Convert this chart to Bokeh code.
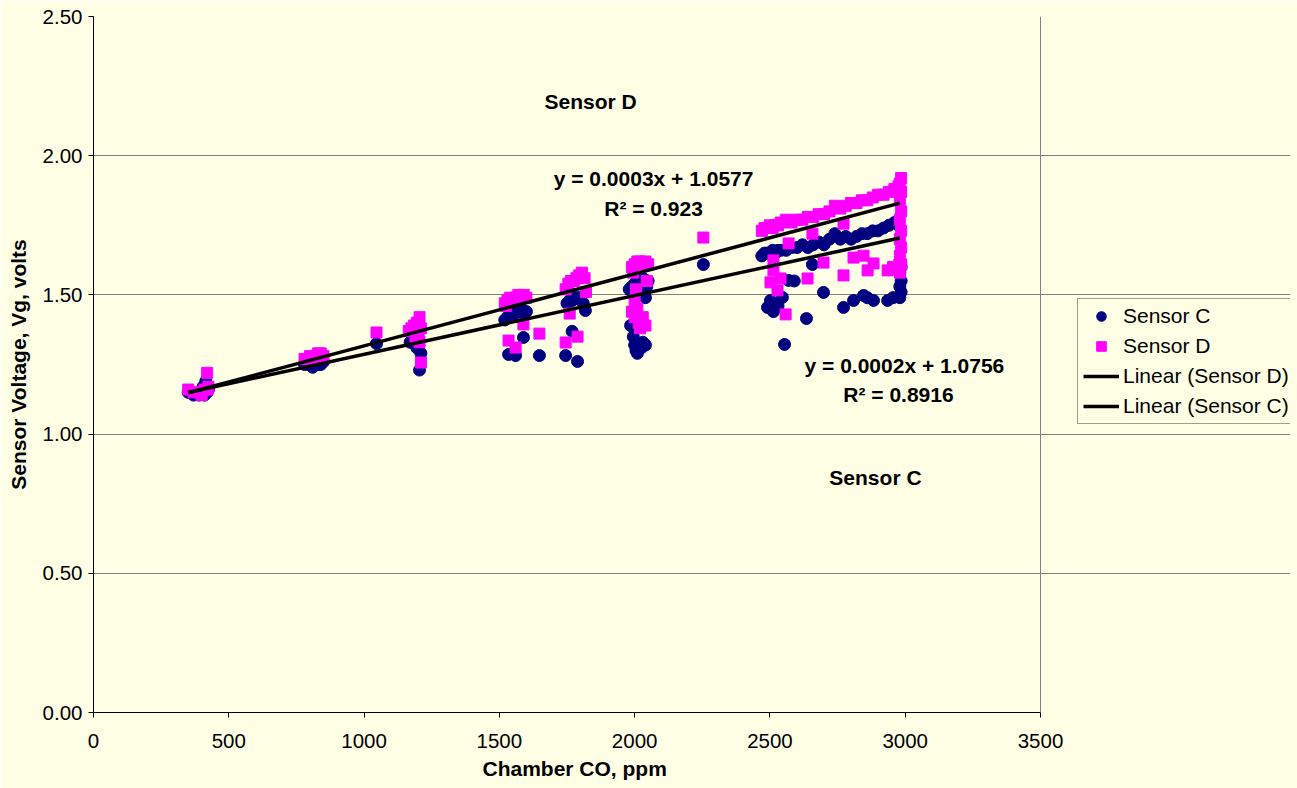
from bokeh.plotting import figure
from bokeh.models import (Legend, LegendItem, Label, FixedTicker, NumeralTickFormatter,
                          ColumnDataSource, Range1d, Title)
from bokeh.embed import file_html
from bokeh.resources import INLINE

# ---------------- data ----------------
sensor_c_ppm = [350, 370, 390, 400, 410, 420, 425, 415, 405,
                780, 795, 810, 820, 830, 840, 850, 800,
                1046,
                1170, 1180, 1190, 1200, 1210, 1205, 1195,
                1520, 1530, 1540, 1550, 1560, 1570, 1580, 1590, 1600, 1589, 1534, 1560, 1648, 1575,
                1750, 1760, 1770, 1780, 1790, 1800, 1818, 1769, 1745, 1789, 1810,
                1980, 1990, 2000, 2010, 2020, 2030, 2040, 2045, 2030, 2040, 1985, 1995, 2000, 2005,
                2010, 2020, 2030, 2040, 2010, 2025, 2050,
                2254,
                2470, 2480, 2490, 2500, 2510, 2520, 2530, 2540, 2560, 2580, 2600, 2620, 2640, 2660,
                2680, 2700, 2720, 2740, 2760, 2780, 2800, 2820, 2840, 2860, 2880, 2900, 2920, 2940,
                2960, 2975,
                2980, 2985, 2980, 2985, 2980, 2985, 2980,
                2657, 2569, 2698, 2772, 2809, 2846, 2860, 2883, 2935, 2955, 2502, 2513, 2546, 2635,
                2554, 2491, 2530, 2590]
sensor_c_volts = [1.15, 1.14, 1.14, 1.15, 1.14, 1.15, 1.16, 1.19, 1.17,
                  1.25, 1.25, 1.24, 1.25, 1.25, 1.25, 1.26, 1.26,
                  1.325,
                  1.33, 1.34, 1.33, 1.35, 1.29, 1.23, 1.31,
                  1.41, 1.42, 1.43, 1.43, 1.44, 1.44, 1.45, 1.44, 1.44, 1.347, 1.286, 1.282, 1.282, 1.42,
                  1.47, 1.48, 1.48, 1.49, 1.49, 1.49, 1.444, 1.369, 1.282, 1.261, 1.47,
                  1.52, 1.53, 1.54, 1.55, 1.55, 1.56, 1.55, 1.53, 1.50, 1.49, 1.39, 1.35, 1.32, 1.30,
                  1.31, 1.32, 1.33, 1.32, 1.29, 1.31, 1.55,
                  1.609,
                  1.64, 1.65, 1.65, 1.65, 1.66, 1.65, 1.66, 1.66, 1.66, 1.67, 1.67, 1.68, 1.67, 1.68,
                  1.69, 1.68, 1.70, 1.72, 1.70, 1.71, 1.70, 1.71, 1.72, 1.72, 1.73, 1.73, 1.74, 1.75,
                  1.76, 1.75,
                  1.49, 1.51, 1.53, 1.55, 1.58, 1.60, 1.62,
                  1.609, 1.552, 1.509, 1.455, 1.48, 1.498, 1.49, 1.48, 1.48, 1.49, 1.48, 1.44, 1.491, 1.415,
                  1.322, 1.455, 1.46, 1.55]

sensor_d_ppm = [350, 370, 390, 400, 410, 420, 420, 425,
                780, 790, 800, 810, 820, 830, 840, 850,
                1046,
                1165, 1175, 1185, 1195, 1205, 1210, 1200, 1190, 1205, 1210,
                1520, 1530, 1540, 1550, 1560, 1570, 1580, 1590, 1600, 1525, 1589, 1534, 1560, 1648,
                1745, 1755, 1765, 1775, 1785, 1795, 1805, 1815, 1820, 1760, 1789, 1745,
                1990, 2000, 2010, 2020, 2030, 2040, 2050, 1995, 2005, 2000, 2010, 1990, 2000, 2015,
                2020, 2040, 2030, 2045,
                2254,
                2470, 2480, 2490, 2500, 2510, 2520, 2530, 2540, 2560, 2580, 2600, 2620, 2640, 2660,
                2680, 2700, 2720, 2740, 2760, 2780, 2800, 2820, 2840, 2860, 2880, 2900, 2920, 2940,
                2960, 2975,
                2985, 2980, 2985, 2980, 2985, 2980, 2985, 2980, 2985, 2980, 2985, 2980,
                2569, 2657, 2513, 2513, 2698, 2772, 2809, 2846, 2883, 2861, 2935, 2639, 2502, 2539,
                2528, 2558, 2772, 2955]
sensor_d_volts = [1.16, 1.15, 1.15, 1.14, 1.16, 1.16, 1.22, 1.17,
                  1.27, 1.27, 1.28, 1.27, 1.28, 1.29, 1.29, 1.28,
                  1.365,
                  1.37, 1.38, 1.39, 1.40, 1.42, 1.38, 1.36, 1.34, 1.33, 1.257,
                  1.47, 1.48, 1.49, 1.48, 1.49, 1.50, 1.49, 1.50, 1.49, 1.46, 1.394, 1.336, 1.311, 1.361,
                  1.52, 1.54, 1.55, 1.55, 1.56, 1.57, 1.58, 1.56, 1.51, 1.433, 1.35, 1.329,
                  1.60, 1.61, 1.62, 1.62, 1.61, 1.62, 1.61, 1.58, 1.52, 1.48, 1.45, 1.44, 1.42, 1.40,
                  1.38, 1.39, 1.42, 1.55,
                  1.706,
                  1.73, 1.74, 1.74, 1.75, 1.74, 1.75, 1.75, 1.76, 1.77, 1.76, 1.77, 1.77, 1.78, 1.78,
                  1.79, 1.79, 1.80, 1.82, 1.81, 1.82, 1.83, 1.83, 1.84, 1.84, 1.85, 1.86, 1.86, 1.87,
                  1.88, 1.89,
                  1.92, 1.90, 1.87, 1.84, 1.80, 1.77, 1.73, 1.70, 1.67, 1.64, 1.61, 1.58,
                  1.685, 1.72, 1.624, 1.588, 1.616, 1.57, 1.634, 1.641, 1.613, 1.588, 1.588, 1.559, 1.545, 1.559,
                  1.516, 1.43, 1.756, 1.60]

# linear trend lines: [slope, intercept] and x extent
trend_d = [0.000259, 1.0577]
trend_c = [0.000211, 1.0756]
trend_x = [350, 2980]

x_ticks = [0, 500, 1000, 1500, 2000, 2500, 3000, 3500]
y_ticks = [0.0, 0.5, 1.0, 1.5, 2.0, 2.5]
x_max = 3500
y_max = 2.5

# ---------------- figure ----------------
BG = "#FFFFE5"
FONT = "Liberation Sans"
GRID = "#808080"

W, H = 1297, 788
LEFT, RIGHT_FRAME, PLOT_RIGHT = 93, 7, 1040   # plot area spans 93..1040 px; frame extends for legend
frame_w = W - RIGHT_FRAME - LEFT
x_end = x_max * frame_w / (PLOT_RIGHT - LEFT)

p = figure(width=W, height=H, x_range=Range1d(0, x_end), y_range=Range1d(0, y_max),
           output_backend="svg", toolbar_location=None,
           min_border_left=LEFT, min_border_right=RIGHT_FRAME, min_border_top=16,
           min_border_bottom=76)
p.background_fill_color = BG
p.border_fill_color = BG
p.outline_line_color = None

p.xgrid.visible = False
p.ygrid.ticker = FixedTicker(ticks=y_ticks)
p.ygrid.grid_line_color = GRID
p.ygrid.grid_line_width = 1
p.ygrid.bounds = (0, x_max)

p.xaxis.ticker = FixedTicker(ticks=x_ticks)
p.xaxis.bounds = (0, x_max)
p.yaxis.ticker = FixedTicker(ticks=y_ticks)
p.yaxis.formatter = NumeralTickFormatter(format="0.00")

for ax in (p.xaxis, p.yaxis):
    ax.axis_line_color = "black"
    ax.axis_line_width = 1
    ax.major_tick_line_color = "black"
    ax.major_tick_in = 0
    ax.major_tick_out = 5
    ax.minor_tick_line_color = None
    ax.major_label_text_font = FONT
    ax.major_label_text_font_size = "20.5px"
    ax.major_label_text_color = "black"
    ax.axis_label_text_font = FONT
    ax.axis_label_text_font_size = "21px"
    ax.axis_label_text_font_style = "bold"
    ax.axis_label_text_color = "black"

p.yaxis.axis_label = "Sensor Voltage, Vg, volts"
p.xaxis.major_label_standoff = 16
p.yaxis.major_label_standoff = 6
p.yaxis.axis_label_standoff = 10

# x-axis title, centred under the plot area (not the extended frame)
p.add_layout(Title(text="Chamber CO, ppm", align="left", offset=389, vertical_align="middle",
                   standoff=10, text_font=FONT, text_font_size="21px",
                   text_font_style="bold", text_color="black"), "below")

# right edge of the plot area
p.segment(x0=[x_max], y0=[0], x1=[x_max], y1=[y_max], line_color=GRID, line_width=1)

src_c = ColumnDataSource(dict(x=sensor_c_ppm, y=sensor_c_volts))
src_d = ColumnDataSource(dict(x=sensor_d_ppm, y=sensor_d_volts))

r_c = p.scatter("x", "y", source=src_c, marker="circle", size=12,
                fill_color="#000080", line_color="#000080")
r_d = p.scatter("x", "y", source=src_d, marker="square", size=11,
                fill_color="#FF00FF", line_color="#FF00FF")

yd = [trend_d[0] * x + trend_d[1] for x in trend_x]
yc = [trend_c[0] * x + trend_c[1] for x in trend_x]
r_ld = p.line(trend_x, yd, line_color="black", line_width=3.5)
r_lc = p.line(trend_x, yc, line_color="black", line_width=3.5)

legend = Legend(items=[
    LegendItem(label="Sensor C", renderers=[r_c]),
    LegendItem(label="Sensor D", renderers=[r_d]),
    LegendItem(label="Linear (Sensor D)", renderers=[r_ld]),
    LegendItem(label="Linear (Sensor C)", renderers=[r_lc]),
], location=(984, 288))
legend.label_text_font = FONT
legend.label_text_font_size = "21px"
legend.label_text_color = "black"
legend.glyph_width = 36
legend.glyph_height = 24
legend.label_height = 24
legend.label_standoff = 4
legend.spacing = 6
legend.padding = 5
legend.margin = 0
legend.border_line_color = "#404040"
legend.border_line_width = 1
legend.background_fill_color = BG
legend.background_fill_alpha = 1
p.add_layout(legend, "center")

def add_label(x, y, text):
    p.add_layout(Label(x=x, y=y, text=text, text_align="center", text_baseline="middle",
                       text_font=FONT, text_font_size="21px", text_font_style="bold",
                       text_color="black"))

add_label(1837, 2.195, "Sensor D")
add_label(2070, 1.918, "y = 0.0003x + 1.0577")
add_label(2070, 1.810, "R² = 0.923")
add_label(2997, 1.246, "y = 0.0002x + 1.0756")
add_label(2975, 1.142, "R² = 0.8916")
add_label(2890, 0.844, "Sensor C")

open("out.html", "w").write(file_html(p, INLINE))
